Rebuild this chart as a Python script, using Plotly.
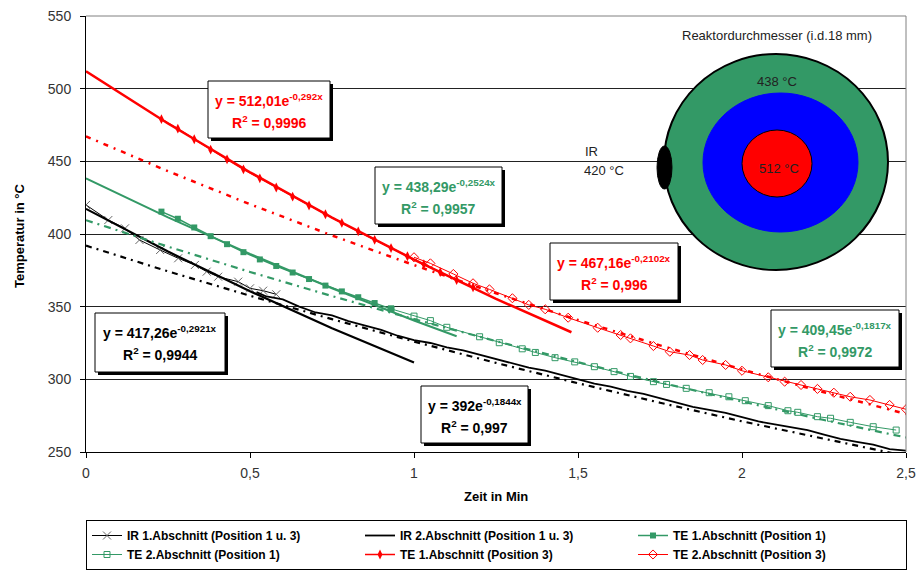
import plotly.graph_objects as go

# ---------------- data ----------------
ir1_x = [0, 0.068, 0.119, 0.163, 0.226, 0.281, 0.332, 0.368, 0.403, 0.464, 0.50, 0.54, 0.58]
ir1_y = [420, 409.6, 403.9, 395.9, 389.0, 383.3, 378.7, 374.1, 370.6, 367.2, 362.6, 361.0, 358.5]

ir2_x = [0.52, 0.55, 0.60, 0.65, 0.70, 0.75, 0.80, 0.85, 0.90, 0.95, 1.00, 1.05, 1.10, 1.15,
         1.20, 1.25, 1.30, 1.35, 1.40, 1.45, 1.50, 1.55, 1.60, 1.65, 1.70, 1.75, 1.80, 1.85,
         1.90, 1.95, 2.00, 2.05, 2.10, 2.15, 2.20, 2.25, 2.30, 2.35, 2.40, 2.45, 2.50]
ir2_y = [360, 357, 355, 350, 346, 344, 340, 337, 334, 330, 327, 325, 322, 320,
         317, 314, 311, 308, 306, 303, 300, 297, 295, 292, 290, 287, 284, 281,
         279, 277, 274, 271, 269, 267, 265, 262, 259, 257, 255, 252, 251]

te1p1_x = [0.23, 0.28, 0.33, 0.38, 0.43, 0.48, 0.53, 0.58, 0.63, 0.68, 0.73, 0.78, 0.83, 0.88, 0.93]
te1p1_y = [415.4, 410.5, 404.5, 398.5, 393.0, 387.5, 382.5, 378.0, 373.5, 369.0, 364.5, 360.5,
           356.5, 352.5, 348.5]

te2p1_x = [0.93, 1.00, 1.05, 1.10, 1.20, 1.26, 1.33, 1.37, 1.43, 1.49, 1.55, 1.61, 1.66, 1.73,
           1.77, 1.83, 1.90, 1.96, 2.01, 2.08, 2.14, 2.17, 2.23, 2.27, 2.33, 2.40, 2.47]
te2p1_y = [348.5, 343.5, 340.4, 335.8, 329.3, 325.2, 321.0, 318.5, 314.9, 312.0, 308.7, 305.3,
           302.0, 298.4, 296.5, 293.8, 290.8, 288.0, 285.3, 281.9, 278.4, 277.3, 274.3, 273.2,
           270.4, 267.4, 265.1]

te1p3_x = [0.23, 0.28, 0.33, 0.38, 0.43, 0.48, 0.53, 0.58, 0.63, 0.68, 0.73, 0.78, 0.83, 0.88,
           0.93, 0.98, 1.03, 1.08, 1.13, 1.18]
te1p3_y = [479.0, 472.5, 465.2, 458.0, 451.4, 444.5, 438.3, 432.0, 425.7, 419.6, 413.6, 407.6,
           401.8, 396.0, 390.3, 384.7, 379.2, 373.7, 368.3, 363.3]

te2p3_x = [1.00, 1.05, 1.12, 1.18, 1.23, 1.30, 1.35, 1.40, 1.47, 1.56, 1.63, 1.66, 1.73, 1.78,
           1.84, 1.88, 1.95, 2.00, 2.08, 2.13, 2.18, 2.23, 2.28, 2.33, 2.39, 2.45, 2.50]
te2p3_y = [384.0, 379.8, 372.5, 366.1, 361.9, 355.8, 351.2, 348.2, 342.4, 335.5, 330.5, 328.2,
           322.9, 319.0, 316.7, 313.3, 309.9, 305.9, 301.4, 298.4, 296.1, 293.4, 290.8, 288.0,
           285.8, 282.4, 279.4]

# trend lines
tr_ir1_x = [0, 0.25, 0.5, 0.75, 1.0]
tr_ir1_y = [417.3, 387.9, 360.6, 335.2, 311.6]
tr_ir2_x = [0, 0.25, 0.5, 0.75, 1.0, 1.25, 1.5, 1.75, 2.0, 2.25, 2.5]
tr_ir2_y = [392.0, 374.3, 357.5, 341.4, 326.0, 311.3, 297.3, 283.9, 271.1, 258.9, 247.2]
tr_te1p1_x = [0, 0.25, 0.5, 0.75, 1.0, 1.13]
tr_te1p1_y = [438.3, 411.5, 386.3, 362.7, 340.5, 329.6]
tr_te2p1_x = [0, 0.25, 0.5, 0.75, 1.0, 1.25, 1.5, 1.75, 2.0, 2.25, 2.5]
tr_te2p1_y = [409.5, 391.3, 373.9, 357.3, 341.4, 326.3, 311.8, 297.9, 284.7, 272.0, 260.0]
tr_te1p3_x = [0, 0.25, 0.5, 0.75, 1.0, 1.25, 1.48]
tr_te1p3_y = [512.0, 476.0, 442.5, 411.3, 382.4, 355.4, 332.4]
tr_te2p3_x = [0, 0.25, 0.5, 0.75, 1.0, 1.25, 1.5, 1.75, 2.0, 2.25, 2.5]
tr_te2p3_y = [467.2, 443.2, 420.5, 399.0, 378.6, 359.2, 340.8, 323.4, 306.8, 291.1, 276.2]

x_tickvals = [0, 0.5, 1, 1.5, 2, 2.5]
x_ticktext = ["0", "0,5", "1", "1,5", "2", "2,5"]
y_tickvals = [250, 300, 350, 400, 450, 500, 550]

RED = "#FF0000"
GREEN = "#339966"
BLACK = "#000000"
FONT = "Arial, 'Liberation Sans', sans-serif"

W, H = 917, 570
# plot area in pixels
L, R, T, B = 86, 906, 16, 452


def px(x):
    return (x - L) / (R - L)


def py(y):
    return (B - y) / (B - T)


fig = go.Figure()

# data series (legend)
fig.add_trace(go.Scatter(x=ir1_x, y=ir1_y, mode="lines+markers", name="IR 1.Abschnitt (Position 1 u. 3)",
                         line=dict(color=BLACK, width=1),
                         marker=dict(symbol="x-thin", size=8, color="#666", line=dict(color="#666", width=1))))
fig.add_trace(go.Scatter(x=ir2_x, y=ir2_y, mode="lines", name="IR 2.Abschnitt (Position 1 u. 3)",
                         line=dict(color=BLACK, width=1.8)))
fig.add_trace(go.Scatter(x=te1p1_x, y=te1p1_y, mode="lines+markers", name="TE 1.Abschnitt (Position 1)",
                         line=dict(color=GREEN, width=1.5),
                         marker=dict(symbol="square", size=6, color=GREEN)))
fig.add_trace(go.Scatter(x=te2p1_x, y=te2p1_y, mode="lines+markers", name="TE 2.Abschnitt (Position 1)",
                         line=dict(color=GREEN, width=1),
                         marker=dict(symbol="square-open", size=6, color=GREEN, line=dict(width=1))))
fig.add_trace(go.Scatter(x=te1p3_x, y=te1p3_y, mode="lines+markers", name="TE 1.Abschnitt (Position 3)",
                         line=dict(color=RED, width=1.5),
                         marker=dict(symbol="diamond-tall", size=7, color=RED)))
fig.add_trace(go.Scatter(x=te2p3_x, y=te2p3_y, mode="lines+markers", name="TE 2.Abschnitt (Position 3)",
                         line=dict(color=RED, width=1),
                         marker=dict(symbol="diamond-open", size=7, color=RED, line=dict(width=1))))

# trend lines
trend = [
    (tr_ir1_x, tr_ir1_y, BLACK, 2.2, "solid"),
    (tr_ir2_x, tr_ir2_y, BLACK, 2.2, "6px,5px,2px,5px"),
    (tr_te1p1_x, tr_te1p1_y, GREEN, 2, "solid"),
    (tr_te2p1_x, tr_te2p1_y, GREEN, 2.2, "7px,5px,2px,5px"),
    (tr_te1p3_x, tr_te1p3_y, RED, 2.5, "solid"),
    (tr_te2p3_x, tr_te2p3_y, RED, 2.5, "5px,6px,2px,6px"),
]
for xs, ys, c, w, d in trend:
    fig.add_trace(go.Scatter(x=xs, y=ys, mode="lines", showlegend=False, hoverinfo="skip",
                             line=dict(color=c, width=w, dash=d)))

shapes = []
annotations = []

# plot frame top/right (gray)
shapes.append(dict(type="line", xref="paper", yref="paper", x0=0, x1=1, y0=1, y1=1,
                   line=dict(color="#808080", width=1), layer="above"))
shapes.append(dict(type="line", xref="paper", yref="paper", x0=1, x1=1, y0=0, y1=1,
                   line=dict(color="#808080", width=1), layer="above"))

# equation boxes: (left, top, right, bottom) px, color, line1, line2
boxes = [
    ((208, 81, 330, 138), RED, "y = 512,01e<sup>-0,292x</sup>", "R<sup>2</sup> = 0,9996"),
    ((375, 167, 502, 224), GREEN, "y = 438,29e<sup>-0,2524x</sup>", "R<sup>2</sup> = 0,9957"),
    ((550, 243, 678, 300), RED, "y = 467,16e<sup>-0,2102x</sup>", "R<sup>2</sup> = 0,996"),
    ((771, 310, 899, 367), GREEN, "y = 409,45e<sup>-0,1817x</sup>", "R<sup>2</sup> = 0,9972"),
    ((95, 313, 225, 372), BLACK, "y = 417,26e<sup>-0,2921x</sup>", "R<sup>2</sup> = 0,9944"),
    ((421, 386, 528, 443), BLACK, "y = 392e<sup>-0,1844x</sup>", "R<sup>2</sup> = 0,997"),
]
for (l, t, r, b), col, t1, t2 in boxes:
    shapes.append(dict(type="rect", xref="paper", yref="paper", x0=px(l + 3), x1=px(r + 3),
                       y0=py(b + 3), y1=py(t + 3), fillcolor="black", line=dict(width=0), layer="above"))
    shapes.append(dict(type="rect", xref="paper", yref="paper", x0=px(l), x1=px(r),
                       y0=py(b), y1=py(t), fillcolor="white", line=dict(color="black", width=1),
                       layer="above"))
    cx = px((l + r) / 2)
    annotations.append(dict(x=cx, y=py(t + 19), xref="paper", yref="paper", text="<b>" + t1 + "</b>",
                            showarrow=False, xanchor="center", yanchor="middle",
                            font=dict(family=FONT, size=14, color=col)))
    annotations.append(dict(x=cx, y=py(t + 41), xref="paper", yref="paper", text="<b>" + t2 + "</b>",
                            showarrow=False, xanchor="center", yanchor="middle",
                            font=dict(family=FONT, size=14, color=col)))

# reactor cross-section diagram
shapes.append(dict(type="circle", xref="paper", yref="paper", x0=px(664), x1=px(888), y0=py(270), y1=py(54),
                   fillcolor=GREEN, line=dict(color="black", width=2), layer="above"))
shapes.append(dict(type="circle", xref="paper", yref="paper", x0=px(703), x1=px(858), y0=py(232), y1=py(93),
                   fillcolor="#0000FF", line=dict(color="#0000FF", width=1), layer="above"))
shapes.append(dict(type="circle", xref="paper", yref="paper", x0=px(742), x1=px(812), y0=py(197), y1=py(130),
                   fillcolor=RED, line=dict(color="black", width=1), layer="above"))
shapes.append(dict(type="circle", xref="paper", yref="paper", x0=px(657), x1=px(672), y0=py(189), y1=py(146),
                   fillcolor="black", line=dict(color="black", width=1), layer="above"))

dtxt = dict(family=FONT, size=13, color="#222")
annotations += [
    dict(x=px(777), y=py(35), xref="paper", yref="paper", text="Reaktordurchmesser (i.d.18 mm)",
         showarrow=False, xanchor="center", yanchor="middle", font=dtxt),
    dict(x=px(777), y=py(81), xref="paper", yref="paper", text="438 °C",
         showarrow=False, xanchor="center", yanchor="middle", font=dtxt),
    dict(x=px(779), y=py(168), xref="paper", yref="paper", text="512 °C",
         showarrow=False, xanchor="center", yanchor="middle", font=dtxt),
    dict(x=px(583), y=py(151), xref="paper", yref="paper", text="IR",
         showarrow=False, xanchor="left", yanchor="middle", font=dtxt),
    dict(x=px(582), y=py(170), xref="paper", yref="paper", text="420 °C",
         showarrow=False, xanchor="left", yanchor="middle", font=dtxt),
]

# axis titles
annotations += [
    dict(x=px(496), y=py(496), xref="paper", yref="paper", text="<b>Zeit in Min</b>",
         showarrow=False, xanchor="center", yanchor="middle", font=dict(family=FONT, size=13, color="black")),
    dict(x=px(19), y=py(236), xref="paper", yref="paper", text="<b>Temperatur in °C</b>", textangle=-90,
         showarrow=False, xanchor="center", yanchor="middle", font=dict(family=FONT, size=13, color="black")),
]

fig.update_layout(
    width=W, height=H,
    margin=dict(l=L, r=W - R, t=T, b=H - B, autoexpand=False),
    paper_bgcolor="white", plot_bgcolor="white",
    font=dict(family=FONT, size=13, color="#333"),
    shapes=shapes, annotations=annotations,
    showlegend=True,
    legend=dict(orientation="h", xref="paper", x=0, xanchor="left",
                yref="container", y=(H - 520) / H, yanchor="top",
                entrywidth=228, entrywidthmode="pixels",
                bordercolor="black", borderwidth=1, bgcolor="white",
                font=dict(family=FONT, size=12, color="black", weight="bold"),
                tracegroupgap=0),
    xaxis=dict(range=[0, 2.5], tickvals=x_tickvals, ticktext=x_ticktext, ticks="outside", ticklen=5,
               tickcolor="black", showline=True, linecolor="black", linewidth=1, showgrid=False,
               zeroline=False, automargin=False,
               tickfont=dict(family=FONT, size=14, color="#333"), ticklabelstandoff=3),
    yaxis=dict(range=[250, 550], tickvals=y_tickvals, ticks="outside", ticklen=5, tickcolor="black",
               showline=True, linecolor="black", linewidth=1, showgrid=True, gridcolor="#222",
               gridwidth=1, zeroline=False, automargin=False,
               tickfont=dict(family=FONT, size=14, color="#333"), ticklabelstandoff=6),
)

fig.write_html("out.html")
